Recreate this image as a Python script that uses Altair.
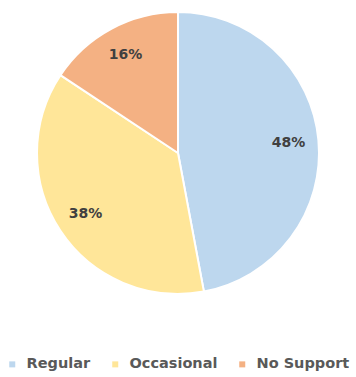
import altair as alt
import pandas as pd

categories = ["Regular", "Occasional", "No Support"]
values = [48, 38, 16]
labels = ["48%", "38%", "16%"]
colors = ["#BDD7EE", "#FFE699", "#F4B183"]

df = pd.DataFrame({"cat": categories, "val": values, "lab": labels, "order": [0, 1, 2]})

base = alt.Chart(df).encode(
    theta=alt.Theta("val:Q", stack=True),
    order=alt.Order("order:Q"),
)

pie = base.mark_arc(outerRadius=141, stroke="white", strokeWidth=2).encode(
    color=alt.Color(
        "cat:N",
        scale=alt.Scale(domain=categories, range=colors),
        sort=categories,
        legend=alt.Legend(
            title=None,
            orient="none",
            legendX=5,
            legendY=357,
            direction="horizontal",
            symbolType="square",
            symbolSize=36,
            symbolStrokeWidth=0,
            labelFont="DejaVu Sans",
            labelFontSize=14.5,
            labelFontWeight="bold",
            labelColor="#595959",
            labelOffset=7,
            columnPadding=17,
        ),
    )
)

text = base.mark_text(
    radius=111, font="DejaVu Sans", fontSize=14, fontWeight="bold", color="#404040"
).encode(text="lab:N")

chart = (
    (pie + text)
    .properties(width=356, height=306, padding=0)
    .configure_view(stroke=None)
)

chart.save("out.html", embed_options={"renderer": "svg", "actions": False})
